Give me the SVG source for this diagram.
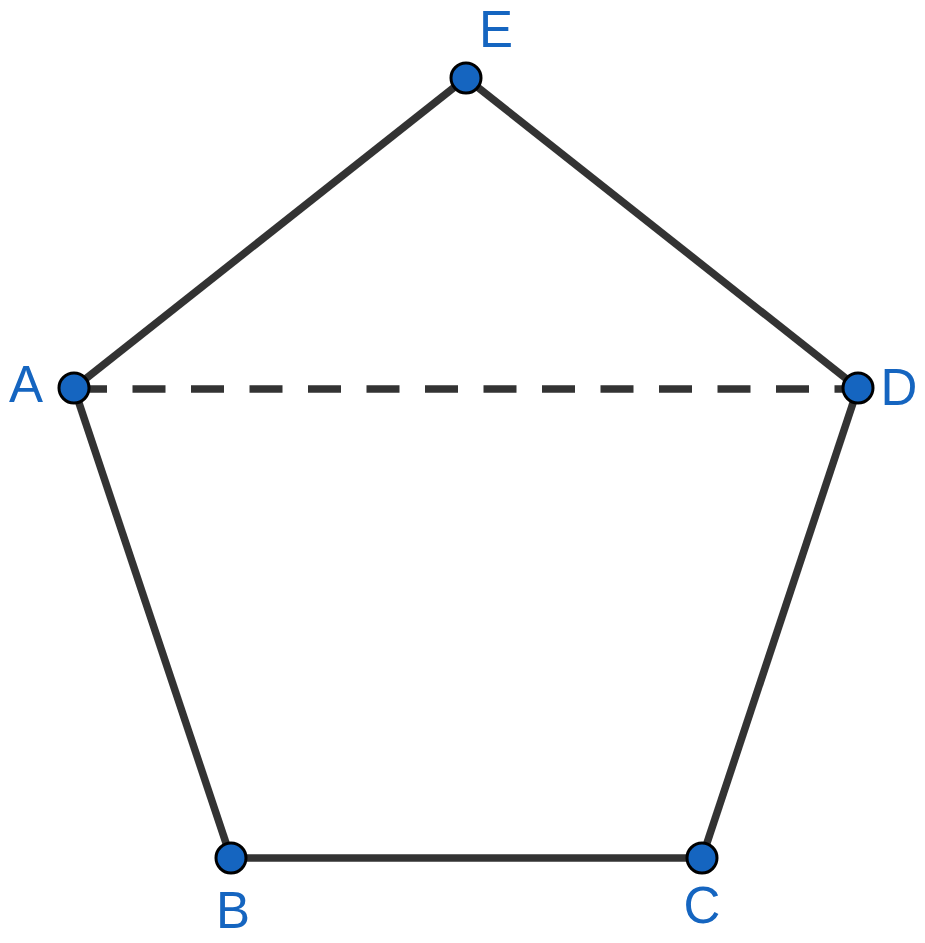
<svg xmlns="http://www.w3.org/2000/svg" width="925" height="943" viewBox="0 0 925 943">
<style>
.edge{stroke:#333333;stroke-width:7.5;fill:none;stroke-linecap:butt}
.dash{stroke-dasharray:33 25.5}
.pt{fill:#1565C0;stroke:#000000;stroke-width:3}
.lbl{font-family:"Liberation Sans",Arial,sans-serif;font-size:51px;fill:#1565C0;text-anchor:middle}
</style>
<rect width="925" height="943" fill="#ffffff"/>
<g id="connectors">
<line class="edge" x1="74" y1="388" x2="466" y2="78"/>
<line class="edge" x1="466" y1="78" x2="858" y2="388"/>
<line class="edge dash" x1="74" y1="389" x2="858" y2="389"/>
<line class="edge" x1="74" y1="388" x2="231" y2="858"/>
<line class="edge" x1="858" y1="388" x2="702" y2="858"/>
<line class="edge" x1="231" y1="858" x2="702" y2="858"/>
</g>
<g id="node-E"><circle class="pt" cx="466" cy="78" r="15"/><text class="lbl" x="496" y="47">E</text></g>
<g id="node-A"><circle class="pt" cx="74" cy="388" r="15"/><text class="lbl" x="26" y="402">A</text></g>
<g id="node-D"><circle class="pt" cx="858" cy="388" r="15"/><text class="lbl" x="899" y="405">D</text></g>
<g id="node-B"><circle class="pt" cx="231" cy="858" r="15"/><text class="lbl" x="233" y="928">B</text></g>
<g id="node-C"><circle class="pt" cx="702" cy="858" r="15"/><text class="lbl" x="702" y="923">C</text></g>
</svg>
